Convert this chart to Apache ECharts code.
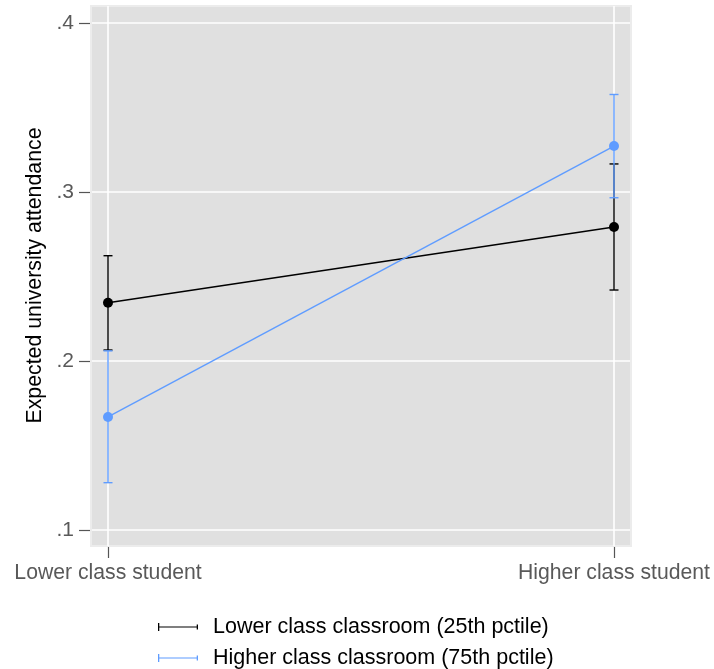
<!DOCTYPE html>
<html>
<head>
<meta charset="utf-8">
<script src="https://cdn.jsdelivr.net/npm/echarts@6/dist/echarts.min.js"></script>
<style>
  html, body { margin: 0; padding: 0; background: #fff; }
  #chart { width: 714px; height: 669px; }
</style>
</head>
<body>
<div id="chart"></div>
<script>
// Predicted university attendance by student class and classroom composition
const categories = ['Lower class student', 'Higher class student'];
const seriesNames = ['Lower class classroom (25th pctile)', 'Higher class classroom (75th pctile)'];

// Point estimates
const lowerMean = [0.2345, 0.2793];
const higherMean = [0.1669, 0.3272];

// Confidence interval bounds
const lowerLo = [0.2065, 0.2420];
const lowerHi = [0.2623, 0.3166];
const higherLo = [0.1280, 0.2966];
const higherHi = [0.2060, 0.3577];

// Y-axis ticks
const yTicks = [0.1, 0.2, 0.3, 0.4];

const BLACK = '#000000';
const BLUE = '#5f9cff';
const FONT = 'Liberation Sans, Arial, sans-serif';

const legendIcon = 'path://M0,0H1.3V3.4H38.7V1.5H40V6.5H38.7V4.6H1.3V8H0Z';

function errorBars(lo, hi) {
  return lo.map((v, i) => [i, v, hi[i]]);
}

function renderErrorBar(params, api) {
  const x = api.value(0);
  const top = api.coord([x, api.value(2)]);
  const bot = api.coord([x, api.value(1)]);
  const half = 4.5;
  const style = { stroke: api.visual('color'), lineWidth: 1.4 };
  return {
    type: 'group',
    children: [
      { type: 'line', shape: { x1: top[0], y1: top[1], x2: bot[0], y2: bot[1] }, style },
      { type: 'line', shape: { x1: top[0] - half, y1: top[1], x2: top[0] + half, y2: top[1] }, style },
      { type: 'line', shape: { x1: bot[0] - half, y1: bot[1], x2: bot[0] + half, y2: bot[1] }, style }
    ]
  };
}

function legendRow(name, color, top) {
  return {
    orient: 'horizontal',
    left: 158,
    top: top,
    padding: 0,
    itemWidth: 40,
    itemHeight: 8,
    textStyle: { fontSize: 21.5, color: '#000', fontFamily: FONT, padding: [0, 0, 0, 10] },
    data: [{ name: name, icon: legendIcon, itemStyle: { color: color } }]
  };
}

const chart = echarts.init(document.getElementById('chart'), null, { renderer: 'canvas' });

const option = {
  backgroundColor: '#ffffff',
  animation: false,
  textStyle: { fontFamily: FONT },
  grid: [
    // plot region background
    { left: 91, top: 6, width: 540, height: 540, show: true,
      backgroundColor: '#e0e0e0', borderColor: '#ececec', borderWidth: 2, z: -1 },
    // data grid: y from .1 to .4
    { left: 92, top: 23, width: 538, height: 507 },
    // category axis grid
    { left: 108, top: 6, width: 506, height: 540 }
  ],
  xAxis: [
    { gridIndex: 0, type: 'value', show: false },
    { gridIndex: 1, type: 'value', min: -0.03162, max: 1.03162, show: false,
      axisLine: { onZero: false } },
    {
      gridIndex: 2, type: 'category', data: categories, boundaryGap: false,
      offset: 1,
      axisLine: { show: false, onZero: false },
      axisTick: { show: true, length: 11, lineStyle: { color: '#555', width: 1.2 } },
      axisLabel: { margin: 16, fontSize: 21.2, color: '#595959', fontFamily: FONT },
      splitLine: { show: true, lineStyle: { color: '#ffffff', width: 1.6 } }
    }
  ],
  yAxis: [
    { gridIndex: 0, type: 'value', show: false },
    {
      gridIndex: 1, type: 'value', min: 0.1, max: 0.4, interval: 0.1,
      offset: 2,
      name: 'Expected university attendance',
      nameLocation: 'middle', nameGap: 40,
      nameTextStyle: { fontSize: 21.3, color: '#000', fontFamily: FONT, padding: [0, 0, 0, 2] },
      axisLine: { show: false, onZero: false },
      axisTick: { show: true, length: 11, lineStyle: { color: '#555', width: 1.2 } },
      axisLabel: {
        margin: 16, fontSize: 21, color: '#595959', fontFamily: FONT,
        formatter: v => '.' + Math.round(v * 10)
      },
      splitLine: { show: true, lineStyle: { color: '#ffffff', width: 1.6 } }
    },
    { gridIndex: 2, type: 'value', show: false, axisLine: { onZero: false } }
  ],
  legend: [
    legendRow(seriesNames[0], BLACK, 616),
    legendRow(seriesNames[1], BLUE, 647)
  ],
  series: [
    {
      name: seriesNames[0], type: 'custom', xAxisIndex: 1, yAxisIndex: 1,
      itemStyle: { color: BLACK }, renderItem: renderErrorBar,
      encode: { x: 0, y: [1, 2] }, data: errorBars(lowerLo, lowerHi), z: 2
    },
    {
      name: seriesNames[0], type: 'line', xAxisIndex: 1, yAxisIndex: 1,
      data: lowerMean.map((v, i) => [i, v]),
      symbol: 'circle', symbolSize: 10,
      lineStyle: { color: BLACK, width: 1.4 }, itemStyle: { color: BLACK }, z: 3
    },
    {
      name: seriesNames[1], type: 'custom', xAxisIndex: 1, yAxisIndex: 1,
      itemStyle: { color: BLUE }, renderItem: renderErrorBar,
      encode: { x: 0, y: [1, 2] }, data: errorBars(higherLo, higherHi), z: 4
    },
    {
      name: seriesNames[1], type: 'line', xAxisIndex: 1, yAxisIndex: 1,
      data: higherMean.map((v, i) => [i, v]),
      symbol: 'circle', symbolSize: 10,
      lineStyle: { color: BLUE, width: 1.4 }, itemStyle: { color: BLUE }, z: 5
    }
  ]
};

chart.setOption(option);
</script>
</body>
</html>
